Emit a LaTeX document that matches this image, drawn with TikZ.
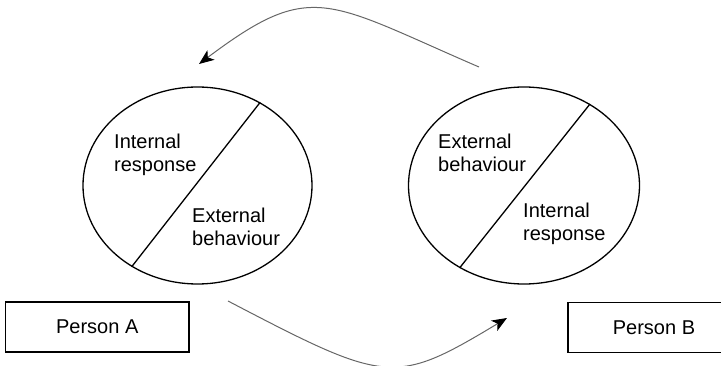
\documentclass[tikz,border=0pt]{standalone}
\usepackage{fontspec}
\setmainfont{Liberation Sans}
\usetikzlibrary{shapes.geometric,arrows.meta}

\tikzset{
  person/.style={ellipse, draw, line width=1.3pt, inner sep=0pt, minimum width=229pt, minimum height=197pt},
  divider/.style={line width=1.3pt},
  % anchored on the baseline of the last line
  label/.style={anchor=base west, align=left, inner sep=0pt, font=\fontsize{20pt}{23.5pt}\selectfont},
  namebox/.style={draw, line width=1.3pt, minimum width=183.5pt, minimum height=50pt, font=\fontsize{20pt}{24pt}\selectfont},
  flow/.style={draw=black!60, line width=1pt, -{Stealth[length=15pt,width=12pt,inset=4pt,fill=black,color=black]}}
}

\begin{document}
\begin{tikzpicture}[x=1pt,y=-1pt]
  \useasboundingbox (0,0) rectangle (721,366);

  % the two people
  \node[person] (L) at (197.5,185.5) {};
  \node[person, minimum width=231pt] (R) at (524,185.5) {};

  \draw[divider] (L.53) -- (L.231);
  \draw[divider] (R.51) -- (R.232);

  \node[label] (Lint) at (114,172) {Internal\\response};
  \node[label] (Lext) at (192,246) {External\\behaviour};
  \node[label] (Rext) at (438,172) {External\\behaviour};
  \node[label] (Rint) at (523,241) {Internal\\response};

  % name boxes
  \node[namebox] (A) at (97.25,327) {Person A};
  \node[namebox, minimum width=172pt] (B) at (654,327.5) {Person B};

  % exchange arrows
  \coordinate (t0) at (479,67);
  \coordinate (t1) at (199,64);
  \coordinate (b0) at (228,301);
  \coordinate (b1) at (507,318);

  \draw[flow] (t0) .. controls (326,1) and (312,-21) .. (t1);
  \draw[flow] (b0) .. controls (387,384) and (394,386) .. (b1);
\end{tikzpicture}
\end{document}
